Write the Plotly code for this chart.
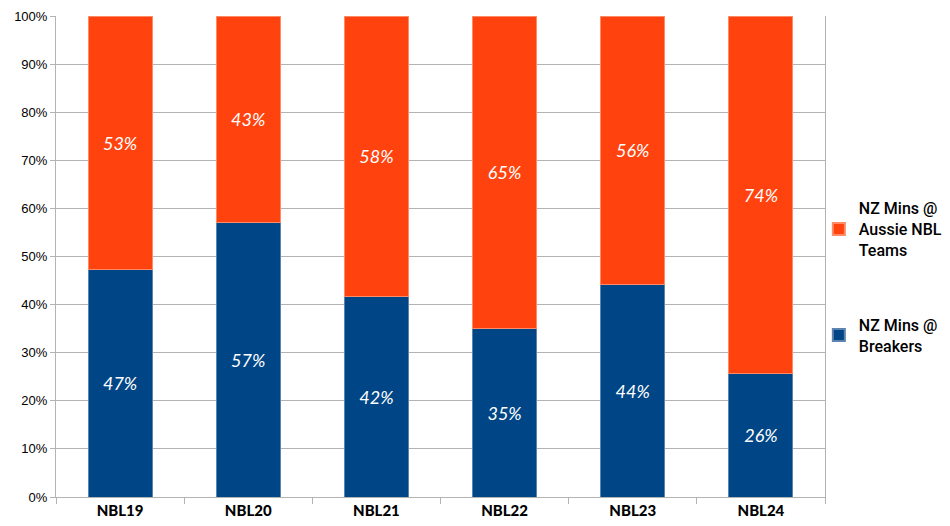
import plotly.graph_objects as go

seasons = ["NBL19", "NBL20", "NBL21", "NBL22", "NBL23", "NBL24"]
breakers = [47.4, 57.0, 41.6, 35.1, 44.2, 25.7]
aussie = [52.6, 43.0, 58.4, 64.9, 55.8, 74.3]
y_ticks = [0, 10, 20, 30, 40, 50, 60, 70, 80, 90, 100]
y_tick_labels = [f"{v}%" for v in y_ticks]

label_font = dict(family="Lato, Open Sans, sans-serif", size=18, color="white", style="italic")

fig = go.Figure()
fig.add_trace(go.Bar(
    x=seasons, y=breakers, name="NZ Mins @<br>Breakers",
    marker=dict(color="#004586", line=dict(color="#5d84b0", width=1)),
    text=[f"{round(v)}%" for v in breakers], textposition="inside",
    insidetextanchor="middle", textfont=label_font, legendgroup="b",
    legendrank=2, textangle=0,
))
fig.add_trace(go.Bar(
    x=seasons, y=aussie, name="NZ Mins @<br>Aussie NBL<br>Teams",
    marker=dict(color="#ff420e", line=dict(color="#ff8a66", width=1)),
    text=[f"{round(v)}%" for v in aussie], textposition="inside",
    insidetextanchor="middle", textfont=label_font, legendgroup="a",
    legendrank=1, textangle=0,
))

fig.update_layout(
    barmode="stack",
    bargap=0.5,
    width=942, height=518,
    margin=dict(l=48, r=125, t=8, b=29, autoexpand=False),
    plot_bgcolor="white", paper_bgcolor="white",
    legend=dict(
        x=0.992, xanchor="left", y=0.458, yanchor="middle",
        traceorder="grouped", tracegroupgap=51,
        bgcolor="rgba(0,0,0,0)",
        font=dict(family="Roboto, DejaVu Sans, sans-serif",
                  size=16, color="black", weight=500),
        itemsizing="constant",
    ),
    xaxis=dict(
        automargin=False,
        tickfont=dict(family="Lato, DejaVu Sans, sans-serif", size=15, color="black", weight=900),
        showline=True, linecolor="#b3b3b3", linewidth=1,
        ticks="outside", tickson="boundaries", ticklen=6, tickcolor="#b3b3b3",
    ),
    yaxis=dict(
        automargin=False,
        range=[0, 100], tickvals=y_ticks, ticktext=y_tick_labels,
        tickfont=dict(family="Liberation Sans, Arial, sans-serif", size=13, color="black"),
        showgrid=True, gridcolor="#b3b3b3", gridwidth=1,
        showline=True, linecolor="#b3b3b3", linewidth=1, mirror=True,
        ticks="outside", ticklen=5, tickcolor="#b3b3b3",
        zeroline=False,
    ),
    font=dict(family="Liberation Sans, sans-serif"),
)

fig.write_html("out.html")
